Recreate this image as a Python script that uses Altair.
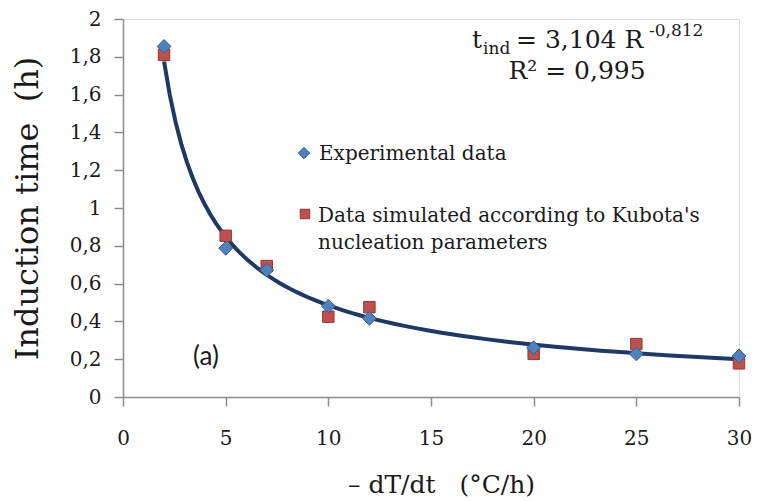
import altair as alt
import pandas as pd

# Data
rate_exp = [2, 5, 7, 10, 12, 20, 25, 30]
time_exp = [1.855, 0.787, 0.672, 0.481, 0.416, 0.261, 0.228, 0.217]
rate_sim = [2, 5, 7, 10, 12, 20, 25, 30]
time_sim = [1.81, 0.853, 0.693, 0.425, 0.475, 0.228, 0.28, 0.178]

x_ticks = [0, 5, 10, 15, 20, 25, 30]
y_ticks = [0, 0.2, 0.4, 0.6, 0.8, 1.0, 1.2, 1.4, 1.6, 1.8, 2.0]

exp_df = pd.DataFrame({"rate": rate_exp, "time": time_exp})
sim_df = pd.DataFrame({"rate": rate_sim, "time": time_sim})

SERIF = "DejaVu Serif"
BLUE = "#4F81BD"
BLUE_E = "#385D8A"
RED = "#C0504D"
RED_E = "#8C3836"
AXC = "#8C8C8C"
TXT = "#1a1a1a"
NB = "\u00a0"

xs = alt.Scale(domain=[0, 30], nice=False)
ys = alt.Scale(domain=[0, 2], nice=False)

x_axis = alt.Axis(values=x_ticks, grid=False,
                  title=f"–{NB}dT/dt{NB}{NB}{NB}(°C/h)",
                  labelFont=SERIF, labelFontSize=20, labelColor=TXT,
                  labelOverlap=False, labelFlush=False,
                  titleFont=SERIF, titleFontSize=25, titleFontWeight="normal",
                  titleColor=TXT, labelPadding=22,
                  titleX=318, titleY=95, titleBaseline="alphabetic", titleAlign="center",
                  tickSize=9, domainColor=AXC, tickColor=AXC, domainWidth=1.5,
                  tickWidth=1.5)
y_axis = alt.Axis(values=y_ticks, tickCount=11, grid=False,
                  title=f"Induction{NB}time{NB}{NB}(h)",
                  labelExpr="replace(format(datum.value, '.1~f'), '.', ',')",
                  labelFont=SERIF, labelFontSize=20, labelColor=TXT,
                  labelOverlap=False, labelFlush=False,
                  titleFont=SERIF, titleFontSize=32, titleFontWeight="normal",
                  titleColor=TXT, labelPadding=13,
                  titleX=-86, titleY=189, titleAngle=-90, titleBaseline="alphabetic",
                  titleAlign="center",
                  tickSize=9, domainColor=AXC, tickColor=AXC, domainWidth=1.5,
                  tickWidth=1.5)

X = alt.X("rate:Q", scale=xs, axis=x_axis)
Y = alt.Y("time:Q", scale=ys, axis=y_axis)

curve = alt.Chart(exp_df).transform_regression(
    "rate", "time", method="pow", extent=[2, 30]
).mark_line(color="#1F3864", strokeWidth=4).encode(x=X, y=Y)

squares = alt.Chart(sim_df).mark_point(
    shape="square", filled=True, size=130, fill=RED, stroke=RED_E, strokeWidth=1, opacity=1
).encode(x=X, y=Y)

diamonds = alt.Chart(exp_df).mark_point(
    shape="diamond", filled=True, size=190, fill=BLUE, stroke=BLUE_E, strokeWidth=1, opacity=1
).encode(x=X, y=Y)

# In-plot legend
anno = pd.DataFrame({"k": [0]})
leg_d = alt.Chart(anno).mark_point(shape="diamond", filled=True, size=130, fill=BLUE,
                                   stroke=BLUE_E, strokeWidth=1, opacity=1).encode(
    x=alt.value(181), y=alt.value(134))
leg_s = alt.Chart(anno).mark_point(shape="square", filled=True, size=90, fill=RED,
                                   stroke=RED_E, strokeWidth=1, opacity=1).encode(
    x=alt.value(182), y=alt.value(195))

def txt(s, x, y, size, font=SERIF, align="left", baseline="alphabetic"):
    return alt.Chart(anno).mark_text(text=s, font=font, fontSize=size, align=align,
                                     baseline=baseline, color=TXT).encode(
        x=alt.value(x), y=alt.value(y))

texts = [
    txt("Experimental data", 196, 141, 20),
    txt("Data simulated according to Kubota's", 195, 203, 20),
    txt("nucleation parameters", 195, 230, 20),
    txt("(a)", 83, 338, 26, font="Lato", align="center", baseline="middle"),
    txt("t", 349, 29, 25),
    txt("ind", 360, 35, 17),
    txt("= 3,104 R", 393, 29, 25),
    txt("-0,812", 526, 17, 17),
    txt("R² = 0,995", 454, 60, 25, align="center"),
]

chart = alt.layer(curve, squares, diamonds, leg_d, leg_s, *texts).properties(
    width=616, height=378,
    padding={"left": 123, "top": 19, "right": 18, "bottom": 104},
    autosize=alt.AutoSizeParams(type="none"),
).configure_view(stroke=None).configure(background="white")

chart.save("out.html", embed_options={"renderer": "svg", "actions": False})
